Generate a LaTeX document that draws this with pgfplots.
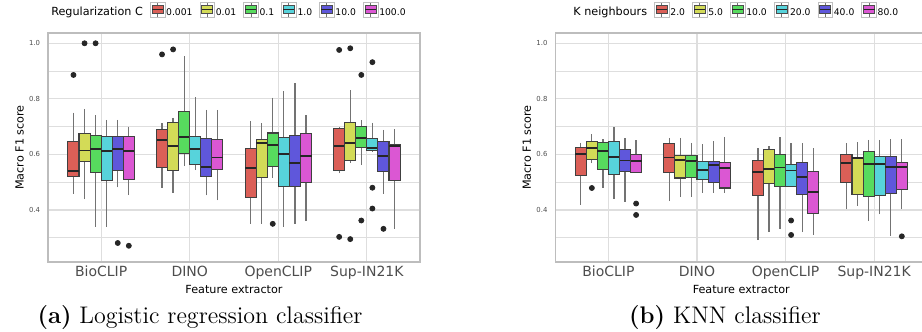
\documentclass[border=0pt]{standalone}
\usepackage{fontspec}
\usepackage{pgfplots}
\pgfplotsset{compat=1.18}
\usepgfplotslibrary{statistics}
\newfontfamily\dejavu{DejaVu Sans}
\definecolor{c1}{HTML}{DB5F57}
\definecolor{c2}{HTML}{D3DB57}
\definecolor{c3}{HTML}{57DB5E}
\definecolor{c4}{HTML}{57D3DB}
\definecolor{c5}{HTML}{5F57DB}
\definecolor{c6}{HTML}{DB57D3}
\definecolor{gridc}{HTML}{DEDEDE}
\definecolor{borderc}{HTML}{BDBDBD}
\definecolor{tickc}{HTML}{4D4D4D}
\newcommand{\legkey}[1]{%
 \draw[draw=gray!50, fill=white, line width=0.35pt] (0pt,-1.95pt) rectangle (7.3pt,5.35pt);
 \draw[draw=black!55, line width=0.45pt] (3.65pt,-1.95pt) -- (3.65pt,5.35pt);
 \draw[draw=black!70, fill=#1, line width=0.45pt] (0.9pt,-0.35pt) rectangle (6.4pt,3.75pt);
 \draw[draw=black!85, line width=0.55pt] (0.9pt,1.7pt) -- (6.4pt,1.7pt);}
\newcommand{\bx}[8]{\addplot[bxs, fill=#1, boxplot prepared={draw direction=y, draw position=#2, lower whisker=#3, lower quartile=#4, median=#5, upper quartile=#6, upper whisker=#7, box extend=0.125, whisker extend=0}] table[row sep=\\, y index=0] {v\\ #8};}
\pgfplotsset{
 bxs/.style={
  boxplot/every whisker/.style={draw=black!55, line width=0.65pt},
  boxplot/every median/.style={draw=black!85, line width=0.9pt},
  boxplot/every box/.style={draw=black!75, line width=0.55pt},
  mark=*, mark size=1.25pt, mark options={draw=black!85, fill=black!85, solid}},
 myaxis/.style={
  scale only axis, width=186pt, height=114.5pt,
  xmin=-0.6, xmax=3.6, ymin=0.2126, ymax=1.037,
  xtick={0,1,2,3}, xticklabels={BioCLIP,DINO,OpenCLIP,Sup-IN21K},
  ytick={0.4,0.6,0.8,1.0}, yticklabels={0.4,0.6,0.8,1.0},
  minor ytick={0.3,0.5,0.7,0.9},
  grid=both,
  major grid style={draw=gridc, line width=0.6pt},
  minor grid style={draw=gridc, line width=0.35pt},
  axis line style={draw=borderc, line width=0.6pt},
  major tick length=0pt, minor tick length=0pt,
  tick style={draw=none},
  xticklabel style={font=\dejavu\fontsize{7}{8}\selectfont, text=tickc, anchor=base, yshift=-7.5pt, inner sep=0pt},
  yticklabel style={font=\dejavu\fontsize{3.45}{4}\selectfont, text=tickc, anchor=east, xshift=-3.75pt, inner sep=0pt},
  every axis x label/.style={at={(axis description cs:0.5,-0.118)}, anchor=center, font=\dejavu\fontsize{5.6}{6.5}\selectfont},
  every axis y label/.style={at={(axis description cs:-0.0766,0.5)}, rotate=90, anchor=center, font=\dejavu\fontsize{5.6}{6.5}\selectfont},
  xlabel={Feature extractor}, ylabel={Macro F1 score},
  legend columns=7,
  legend style={draw=none, fill=none, inner sep=0pt, anchor=west,
   font=\dejavu\fontsize{4.6}{5}\selectfont, nodes={inner sep=0.5pt},
   /tikz/every even column/.append style={column sep=3pt}},
 }
}
\begin{document}
\begin{tikzpicture}
\begin{axis}[myaxis, at={(24pt,35pt)}, anchor=south west, legend style={at={(0.005,1.096)}}]
\addlegendimage{empty legend}\addlegendentry{\fontsize{5.6}{6}\selectfont Regularization C}
\addlegendimage{legend image code/.code={\legkey{c1}}}\addlegendentry{0.001}
\addlegendimage{legend image code/.code={\legkey{c2}}}\addlegendentry{0.01}
\addlegendimage{legend image code/.code={\legkey{c3}}}\addlegendentry{0.1}
\addlegendimage{legend image code/.code={\legkey{c4}}}\addlegendentry{1.0}
\addlegendimage{legend image code/.code={\legkey{c5}}}\addlegendentry{10.0}
\addlegendimage{legend image code/.code={\legkey{c6}}}\addlegendentry{100.0}
% BioCLIP
\bx{c1}{-0.3125}{0.459}{0.521}{0.540}{0.648}{0.750}{0.886\\}
\bx{c2}{-0.1875}{0.438}{0.575}{0.614}{0.674}{0.764}{1.0\\}
\bx{c3}{-0.0625}{0.339}{0.534}{0.620}{0.668}{0.741}{1.0\\}
\bx{c4}{0.0625}{0.339}{0.506}{0.613}{0.665}{0.724}{}
\bx{c5}{0.1875}{0.481}{0.542}{0.620}{0.665}{0.724}{0.281\\}
\bx{c6}{0.3125}{0.453}{0.510}{0.613}{0.665}{0.700}{0.271\\}
% DINO
\bx{c1}{0.6875}{0.480}{0.554}{0.652}{0.688}{0.712}{0.960\\}
\bx{c2}{0.8125}{0.462}{0.542}{0.630}{0.714}{0.732}{0.978\\}
\bx{c3}{0.9375}{0.558}{0.604}{0.662}{0.754}{0.954}{}
\bx{c4}{1.0625}{0.543}{0.564}{0.618}{0.663}{0.805}{}
\bx{c5}{1.1875}{0.452}{0.522}{0.554}{0.658}{0.760}{}
\bx{c6}{1.3125}{0.434}{0.546}{0.589}{0.652}{0.760}{}
% OpenCLIP
\bx{c1}{1.6875}{0.351}{0.444}{0.550}{0.622}{0.720}{}
\bx{c2}{1.8125}{0.351}{0.517}{0.642}{0.654}{0.712}{}
\bx{c3}{1.9375}{0.515}{0.555}{0.634}{0.677}{0.804}{0.350\\}
\bx{c4}{2.0625}{0.339}{0.485}{0.601}{0.661}{0.827}{}
\bx{c5}{2.1875}{0.351}{0.483}{0.569}{0.668}{0.856}{}
\bx{c6}{2.3125}{0.360}{0.499}{0.593}{0.674}{0.741}{}
% Sup-IN21K
\bx{c1}{2.6875}{0.532}{0.541}{0.631}{0.694}{0.697}{0.976\\ 0.303\\}
\bx{c2}{2.8125}{0.570}{0.579}{0.642}{0.715}{0.831}{0.982\\ 0.295\\}
\bx{c3}{2.9375}{0.561}{0.624}{0.659}{0.700}{0.723}{0.886\\ 0.362\\}
\bx{c4}{3.0625}{0.609}{0.613}{0.622}{0.658}{0.714}{0.932\\ 0.480\\ 0.405\\}
\bx{c5}{3.1875}{0.459}{0.537}{0.595}{0.648}{0.688}{0.332\\}
\bx{c6}{3.3125}{0.332}{0.506}{0.629}{0.636}{0.691}{}
\end{axis}
\begin{axis}[myaxis, at={(277.65pt,35pt)}, anchor=south west, legend style={at={(0.045,1.096)}}]
\addlegendimage{empty legend}\addlegendentry{\fontsize{5.6}{6}\selectfont K neighbours}
\addlegendimage{legend image code/.code={\legkey{c1}}}\addlegendentry{2.0}
\addlegendimage{legend image code/.code={\legkey{c2}}}\addlegendentry{5.0}
\addlegendimage{legend image code/.code={\legkey{c3}}}\addlegendentry{10.0}
\addlegendimage{legend image code/.code={\legkey{c4}}}\addlegendentry{20.0}
\addlegendimage{legend image code/.code={\legkey{c5}}}\addlegendentry{40.0}
\addlegendimage{legend image code/.code={\legkey{c6}}}\addlegendentry{80.0}
% BioCLIP
\bx{c1}{-0.3125}{0.418}{0.523}{0.601}{0.625}{0.641}{}
\bx{c2}{-0.1875}{0.568}{0.581}{0.622}{0.647}{0.673}{0.479\\}
\bx{c3}{-0.0625}{0.479}{0.547}{0.612}{0.642}{0.655}{}
\bx{c4}{0.0625}{0.441}{0.528}{0.590}{0.648}{0.700}{}
\bx{c5}{0.1875}{0.429}{0.539}{0.578}{0.616}{0.658}{}
\bx{c6}{0.3125}{0.535}{0.535}{0.576}{0.600}{0.650}{0.423\\ 0.382\\}
% DINO
\bx{c1}{0.6875}{0.432}{0.536}{0.589}{0.640}{0.659}{}
\bx{c2}{0.8125}{0.446}{0.515}{0.580}{0.596}{0.660}{}
\bx{c3}{0.9375}{0.447}{0.518}{0.576}{0.595}{0.641}{}
\bx{c4}{1.0625}{0.462}{0.511}{0.543}{0.576}{0.637}{}
\bx{c5}{1.1875}{0.462}{0.500}{0.561}{0.573}{0.648}{}
\bx{c6}{1.3125}{0.462}{0.479}{0.552}{0.572}{0.663}{}
% OpenCLIP
\bx{c1}{1.6875}{0.291}{0.453}{0.537}{0.577}{0.622}{}
\bx{c2}{1.8125}{0.320}{0.495}{0.546}{0.616}{0.630}{}
\bx{c3}{1.9375}{0.330}{0.486}{0.553}{0.600}{0.661}{}
\bx{c4}{2.0625}{0.485}{0.485}{0.542}{0.563}{0.640}{0.362\\ 0.310\\}
\bx{c5}{2.1875}{0.320}{0.457}{0.518}{0.570}{0.640}{}
\bx{c6}{2.3125}{0.310}{0.386}{0.465}{0.539}{0.622}{}
% Sup-IN21K
\bx{c1}{2.6875}{0.403}{0.499}{0.570}{0.599}{0.640}{}
\bx{c2}{2.8125}{0.415}{0.456}{0.586}{0.590}{0.643}{}
\bx{c3}{2.9375}{0.360}{0.450}{0.565}{0.612}{0.652}{}
\bx{c4}{3.0625}{0.384}{0.452}{0.566}{0.591}{0.652}{}
\bx{c5}{3.1875}{0.306}{0.458}{0.555}{0.591}{0.654}{}
\bx{c6}{3.3125}{0.403}{0.474}{0.554}{0.572}{0.654}{0.305\\}
\end{axis}
\node[font=\fontsize{12}{14}\selectfont] at (100pt,7pt) {\textbf{(a)} Logistic regression classifier};
\node[font=\fontsize{12}{14}\selectfont] at (362.5pt,7pt) {\textbf{(b)} KNN classifier};
\pgfresetboundingbox
\path (0,0) rectangle (461pt,166pt);
\end{tikzpicture}
\end{document}
